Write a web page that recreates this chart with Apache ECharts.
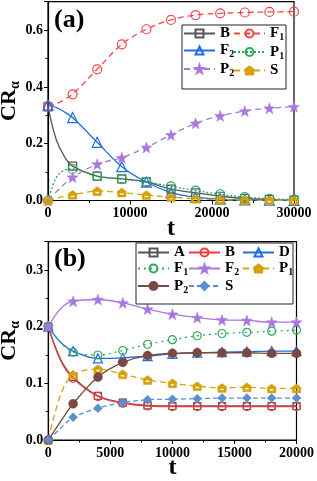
<!DOCTYPE html>
<html><head><meta charset="utf-8">
<script src="https://cdn.jsdelivr.net/npm/echarts@6/dist/echarts.min.js"></script>
<style>html,body{margin:0;padding:0;background:#fff}#c{width:317px;height:481px}</style>
</head><body><div id="c"></div>
<script>
// ---- panel (a) data ----
const tA = [0,1000,2000,3000,6000,9000,12000,15000,18000,21000,24000,27000,30000];
const a_B  = [0.330,0.215,0.155,0.121,0.086,0.076,0.066,0.040,0.027,0.015,0.007,0.003,0.001];
const a_F1 = [0.332,0.340,0.355,0.374,0.462,0.550,0.603,0.636,0.653,0.659,0.662,0.664,0.665];
const a_F2 = [0.336,0.328,0.312,0.292,0.205,0.119,0.065,0.028,0.012,0.005,0.002,0.001,0.000];
const a_P1 = [0.000,0.080,0.107,0.111,0.086,0.075,0.065,0.050,0.035,0.022,0.012,0.006,0.003];
const a_P2 = [0.000,0.030,0.058,0.082,0.128,0.151,0.187,0.231,0.272,0.298,0.315,0.325,0.330];
const a_S  = [0.000,0.008,0.015,0.020,0.033,0.028,0.019,0.012,0.006,0.003,0.001,0.0005,0.000];
const markStepA = 3000;
const xTicksA = [0,10000,20000,30000];
const yTicksA = [0.0,0.2,0.4,0.6];

// ---- panel (b) data ----
const tB = [0,1000,2000,4000,6000,8000,10000,12000,14000,16000,18000,20000];
const b_A  = [0.200,0.142,0.111,0.078,0.066,0.061,0.060,0.060,0.060,0.060,0.060,0.060];
const b_B  = [0.200,0.140,0.109,0.077,0.065,0.060,0.059,0.059,0.059,0.059,0.059,0.059];
const b_D  = [0.200,0.172,0.157,0.144,0.145,0.148,0.152,0.154,0.155,0.156,0.157,0.157];
const b_F1 = [0.200,0.172,0.155,0.150,0.158,0.169,0.177,0.184,0.188,0.190,0.192,0.194];
const b_F2 = [0.200,0.232,0.245,0.248,0.242,0.231,0.222,0.216,0.212,0.211,0.208,0.208];
const b_P1 = [0.000,0.080,0.115,0.125,0.116,0.106,0.100,0.095,0.092,0.093,0.091,0.091];
const b_P2 = [0.000,0.033,0.064,0.111,0.137,0.149,0.153,0.154,0.154,0.154,0.153,0.153];
const b_S  = [0.000,0.021,0.040,0.056,0.066,0.071,0.072,0.073,0.074,0.074,0.074,0.074];
const markStepB = 2000;
const xTicksB = [0,5000,10000,15000,20000];
const yTicksB = [0.0,0.1,0.2,0.3];

const FONT = 'Liberation Serif';
const STAR = 'path://M0,-10 L2.35,-3.24 L9.51,-3.09 L3.8,1.24 L5.88,8.09 L0,4 L-5.88,8.09 L-3.8,1.24 L-9.51,-3.09 L-2.35,-3.24 Z';
const HOUSE = 'path://M0,0 L9,5 L8,13 L-8,13 L-9,5 Z M-4,7 L-4,10 L4,10 L4,7 Z';

function mkData(times, vals, step){
  return times.map((t,i)=>{
    const d = {value:[t, vals[i]]};
    if (t % step !== 0) d.symbol = 'none';
    return d;
  });
}
// series name = panel prefix + name; legend shows name without prefix
function mk(name, gi, times, vals, step, o){
  const hollow = o.hollow;
  return {
    name: (gi===0?'a:':'b:') + name, type:'line', xAxisIndex:gi, yAxisIndex:gi,
    data: mkData(times, vals, step),
    smooth: 0.35,
    symbol: o.symbol, symbolSize: o.size || 8,
    showAllSymbol: true,
    lineStyle:{color:o.color, width:1.3, type:o.type || 'solid'},
    itemStyle: hollow ? {color:'rgba(255,255,255,0)', borderColor:o.color, borderWidth:1.2}
                      : {color:o.color, borderColor:o.color, borderWidth:0.5},
    emphasis:{disabled:true},
    z: o.z || 2
  };
}

const series = [
  mk('B', 0, tA, a_B, markStepA, {color:'#555555', symbol:'rect', hollow:true, size:8}),
  mk('F1',0, tA, a_F1,markStepA, {color:'#f04848', symbol:'circle', hollow:true, size:9, type:[6,4]}),
  mk('F2',0, tA, a_F2,markStepA, {color:'#1f6fe0', symbol:'triangle', hollow:true, size:10}),
  mk('P1',0, tA, a_P1,markStepA, {color:'#2ea85a', symbol:'circle', hollow:true, size:9, type:[2,2]}),
  mk('P2',0, tA, a_P2,markStepA, {color:'#a977e0', symbol:STAR, size:11, type:[6,4]}),
  mk('S', 0, tA, a_S, markStepA, {color:'#d4a20a', symbol:HOUSE, size:9, type:[6,4]}),

  mk('A', 1, tB, b_A, markStepB, {color:'#555555', symbol:'rect', hollow:true, size:7}),
  mk('B', 1, tB, b_B, markStepB, {color:'#ee3b3b', symbol:'circle', hollow:true, size:8}),
  mk('D', 1, tB, b_D, markStepB, {color:'#1f6fe0', symbol:'triangle', hollow:true, size:9}),
  mk('F1',1, tB, b_F1,markStepB, {color:'#2ea85a', symbol:'circle', hollow:true, size:8, type:[2,4]}),
  mk('F2',1, tB, b_F2,markStepB, {color:'#a977e0', symbol:STAR, size:11}),
  mk('P1',1, tB, b_P1,markStepB, {color:'#d4a20a', symbol:HOUSE, size:9, type:[6,4]}),
  mk('P2',1, tB, b_P2,markStepB, {color:'#7a4a42', symbol:'circle', size:9}),
  mk('S', 1, tB, b_S, markStepB, {color:'#5b8fd0', symbol:'diamond', size:9, type:[5,3]}),
];

const rich = {
  m:{fontFamily:FONT, fontWeight:'bold', fontSize:15, lineHeight:18, color:'#000'},
  s:{fontFamily:FONT, fontWeight:'bold', fontSize:10, lineHeight:10, verticalAlign:'bottom', color:'#000'}
};
function legFmt(full){ const n = full.slice(2); return n.length>1 ? '{m|'+n[0]+'}{s|'+n.slice(1)+'}' : '{m|'+n+'}'; }
function leg(left, top, p, data, gap){
  return {orient:'vertical', left, top, itemGap:gap, itemWidth:31, itemHeight:10, padding:0,
    data:data.map(n=>p+':'+n), formatter:legFmt, textStyle:{rich}, selectedMode:false};
}

const axLabel = {fontFamily:FONT, fontWeight:'bold', fontSize:14, color:'#000'};
function xAx(gi, ticks){
  return {gridIndex:gi, type:'value', min:ticks[0], max:ticks[ticks.length-1], interval:ticks[1]-ticks[0],
    name:'t', nameLocation:'middle', nameGap:16, nameMoveOverlap:false,
    nameTextStyle:{fontFamily:FONT, fontWeight:'bold', fontSize:24, color:'#000'},
    axisLine:{lineStyle:{color:'#000', width:1.2}},
    axisTick:{length:4, lineStyle:{color:'#000'}},
    minorTick:{show:true, splitNumber:2, length:2.5, lineStyle:{color:'#000'}},
    splitLine:{show:false},
    axisLabel:Object.assign({margin:6, formatter:v=>String(Math.round(v))}, axLabel)};
}
function yAx(gi, ticks, max){
  const iv = ticks[1]-ticks[0];
  return {gridIndex:gi, type:'value', min:ticks[0], max, interval:iv,
    name:'{m|CR}{s|α}', nameLocation:'middle', nameGap:26, nameRotate:90, nameMoveOverlap:false,
    nameTextStyle:{rich:{
      m:{fontFamily:FONT, fontWeight:'bold', fontSize:22, lineHeight:26, color:'#000'},
      s:{fontFamily:FONT, fontWeight:'bold', fontSize:14, lineHeight:14, verticalAlign:'bottom', color:'#000'}}},
    axisLine:{show:true, lineStyle:{color:'#000', width:1.2}},
    axisTick:{show:true, length:4, lineStyle:{color:'#000'}},
    minorTick:{show:true, splitNumber:2, length:2.5, lineStyle:{color:'#000'}},
    splitLine:{show:false},
    axisLabel:Object.assign({margin:5, formatter:v=>{
      const k = Math.round(v/iv);
      return Math.abs(v - k*iv) < 1e-9 && v <= ticks[ticks.length-1]+1e-9 ? v.toFixed(1) : '';
    }}, axLabel)};
}

const chart = echarts.init(document.getElementById('c'), null, {renderer:'canvas'});
chart.setOption({
  animation:false,
  backgroundColor:'#fff',
  grid:[
    {left:48, right:23, top:1.7, bottom:280.5, show:true, borderColor:'#000', borderWidth:1.2, backgroundColor:'transparent', containLabel:false, outerBoundsMode:'none'},
    {left:48.3, right:20.5, top:241.7, bottom:41, show:true, borderColor:'#000', borderWidth:1.2, backgroundColor:'transparent', containLabel:false, outerBoundsMode:'none'}
  ],
  xAxis:[xAx(0, xTicksA), xAx(1, xTicksB)],
  yAxis:[yAx(0, yTicksA, 0.7), yAx(1, yTicksB, 0.35)],
  legend:[
    leg(183, 26, 'a', ['B','F2','P2'], 2),
    leg(233, 26, 'a', ['F1','P1','S'], 2),
    leg(137, 245, 'b', ['A','F1','P2'], 1),
    leg(188, 245, 'b', ['B','F2','S'], 1),
    leg(242, 245, 'b', ['D','P1'], 1)
  ],
  graphic:[
    {type:'rect', shape:{x:182, y:25, width:104, height:64}, style:{fill:'#fff', stroke:'#222', lineWidth:1}, z:3},
    {type:'rect', shape:{x:136, y:243, width:157, height:61}, style:{fill:'#fff', stroke:'#222', lineWidth:1}, z:3},
    {type:'text', left:54, top:7, style:{text:'(a)', font:'bold 26px "Liberation Serif"', fill:'#000'}, z:5},
    {type:'text', left:54, top:246, style:{text:'(b)', font:'bold 26px "Liberation Serif"', fill:'#000'}, z:5}
  ],
  series
});
</script></body></html>
